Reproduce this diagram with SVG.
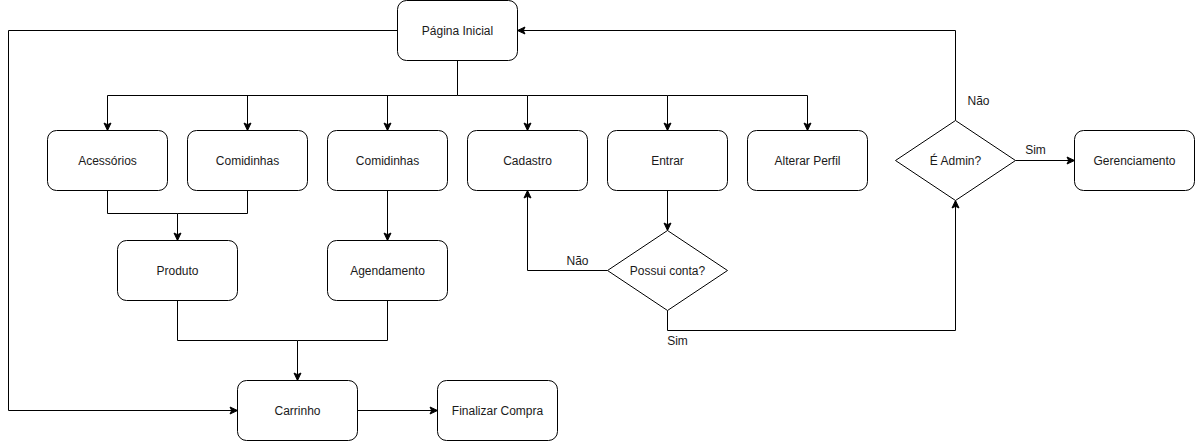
<svg xmlns="http://www.w3.org/2000/svg" width="1195" height="441" viewBox="0 0 1195 441">
<style>
.n{fill:#fff;stroke:#000;stroke-width:1}
.t{font-family:"Liberation Sans",Arial,Helvetica,sans-serif;font-size:12px;fill:#1a1a1a;text-anchor:middle;dominant-baseline:central}
.l{font-family:"Liberation Sans",Arial,Helvetica,sans-serif;font-size:12px;fill:#1a1a1a;text-anchor:middle}
.e{fill:none;stroke:#000;stroke-width:1}
</style>
<defs>
<marker id="a" markerUnits="userSpaceOnUse" markerWidth="10" markerHeight="10" viewBox="0 0 10 10" refX="9" refY="5" orient="auto">
<path d="M1.5,1.5 L9,5 L1.5,8.5 L3.2,5 Z" fill="#000" stroke="#000" stroke-width="1"/>
</marker>
</defs>
<rect width="1195" height="441" fill="#fff"/>
<g transform="translate(0.5,0.5)">
<g id="connectors">
<path class="e" d="M397,30 L8,30 L8,410 L237,410" marker-end="url(#a)"/>
<path class="e" d="M457,60 L457,95 L107,95 L107,130" marker-end="url(#a)"/>
<path class="e" d="M247,95 L247,130" marker-end="url(#a)"/>
<path class="e" d="M387,95 L387,130" marker-end="url(#a)"/>
<path class="e" d="M457,95 L527,95 L527,130" marker-end="url(#a)"/>
<path class="e" d="M527,95 L667,95 L667,130" marker-end="url(#a)"/>
<path class="e" d="M667,95 L807,95 L807,130" marker-end="url(#a)"/>
<path class="e" d="M107,190 L107,213 L177,213 L177,240" marker-end="url(#a)"/>
<path class="e" d="M247,190 L247,213 L177,213"/>
<path class="e" d="M387,190 L387,240" marker-end="url(#a)"/>
<path class="e" d="M177,300 L177,340 L297,340 L297,380" marker-end="url(#a)"/>
<path class="e" d="M387,300 L387,340 L297,340"/>
<path class="e" d="M357,410 L437,410" marker-end="url(#a)"/>
<path class="e" d="M667,190 L667,230" marker-end="url(#a)"/>
<path class="e" d="M607,270 L527,270 L527,190" marker-end="url(#a)"/>
<path class="e" d="M667,310 L667,330 L955,330 L955,200" marker-end="url(#a)"/>
<path class="e" d="M955,120 L955,30 L517,30" marker-end="url(#a)"/>
<path class="e" d="M1015,160 L1074,160" marker-end="url(#a)"/>
<text class="l" x="577" y="264">Não</text>
<text class="l" x="677" y="344">Sim</text>
<text class="l" x="978" y="104">Não</text>
<text class="l" x="1035" y="153">Sim</text>
</g>
<g id="pagina-inicial"><rect class="n" x="397" y="0" width="120" height="60" rx="9"/><text class="t" x="457" y="30">Página Inicial</text></g>
<g id="acessorios"><rect class="n" x="47" y="130" width="120" height="60" rx="9"/><text class="t" x="107" y="160">Acessórios</text></g>
<g id="comidinhas1"><rect class="n" x="187" y="130" width="120" height="60" rx="9"/><text class="t" x="247" y="160">Comidinhas</text></g>
<g id="comidinhas2"><rect class="n" x="327" y="130" width="120" height="60" rx="9"/><text class="t" x="387" y="160">Comidinhas</text></g>
<g id="cadastro"><rect class="n" x="467" y="130" width="120" height="60" rx="9"/><text class="t" x="527" y="160">Cadastro</text></g>
<g id="entrar"><rect class="n" x="607" y="130" width="120" height="60" rx="9"/><text class="t" x="667" y="160">Entrar</text></g>
<g id="alterar-perfil"><rect class="n" x="747" y="130" width="120" height="60" rx="9"/><text class="t" x="807" y="160">Alterar Perfil</text></g>
<g id="e-admin"><path class="n" d="M955,120 L1015,160 L955,200 L895,160 Z"/><text class="t" x="955" y="160">É Admin?</text></g>
<g id="gerenciamento"><rect class="n" x="1074" y="130" width="120" height="60" rx="9"/><text class="t" x="1134" y="160">Gerenciamento</text></g>
<g id="produto"><rect class="n" x="117" y="240" width="120" height="60" rx="9"/><text class="t" x="177" y="270">Produto</text></g>
<g id="agendamento"><rect class="n" x="327" y="240" width="120" height="60" rx="9"/><text class="t" x="387" y="270">Agendamento</text></g>
<g id="possui-conta"><path class="n" d="M667,230 L727,270 L667,310 L607,270 Z"/><text class="t" x="667" y="270">Possui conta?</text></g>
<g id="carrinho"><rect class="n" x="237" y="380" width="120" height="60" rx="9"/><text class="t" x="297" y="410">Carrinho</text></g>
<g id="finalizar-compra"><rect class="n" x="437" y="380" width="120" height="60" rx="9"/><text class="t" x="497" y="410">Finalizar Compra</text></g>
</g>
</svg>
